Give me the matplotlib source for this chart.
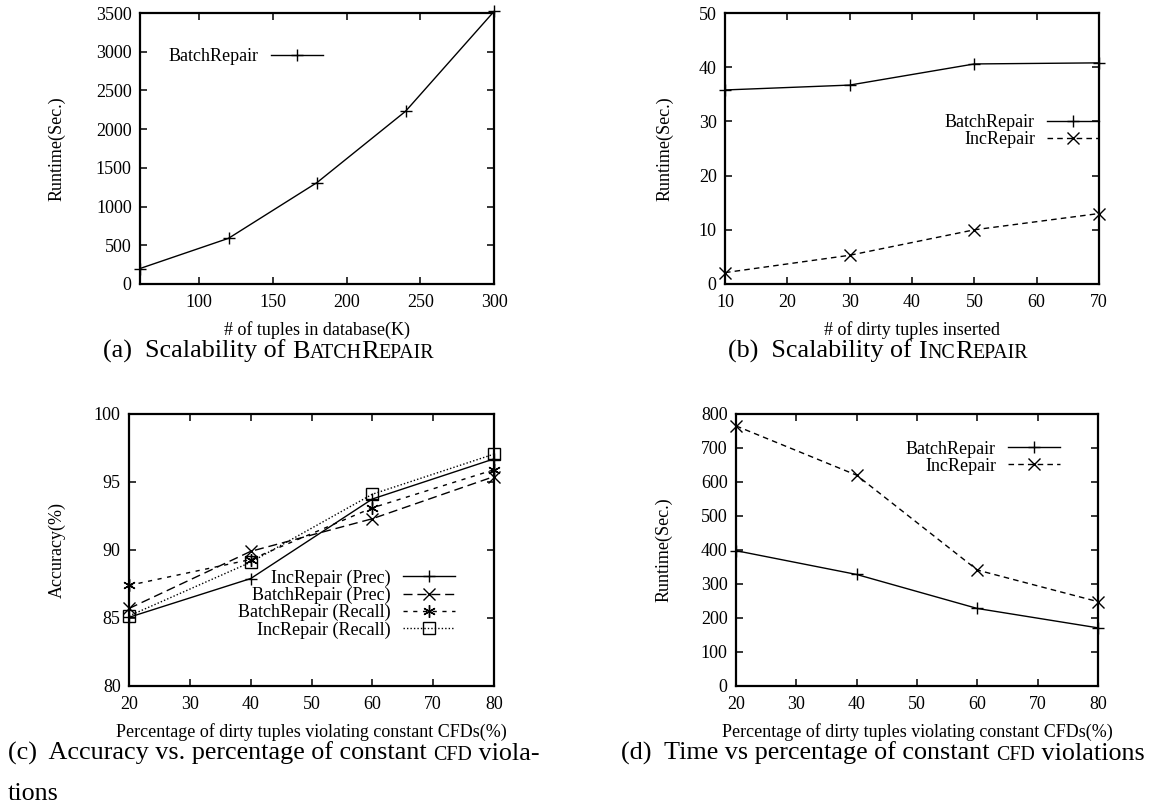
import matplotlib
matplotlib.use("Agg")
import matplotlib.pyplot as plt

plt.rcParams["font.family"] = ["Liberation Serif", "DejaVu Serif"]
plt.rcParams["font.size"] = 13

# (a) scalability of BatchRepair
tuples_k = [60, 120, 180, 240, 300]
batch_a = [200, 590, 1310, 2230, 3520]

# (b) scalability of IncRepair
dirty_inserted = [10, 30, 50, 70]
batch_b = [35.8, 36.7, 40.6, 40.8]
inc_b = [2.1, 5.3, 10.0, 13.0]

# (c) accuracy vs. percentage of constant CFD violations
pct = [20, 40, 60, 80]
inc_prec = [85.05, 87.9, 93.75, 96.7]
batch_prec = [85.7, 89.9, 92.3, 95.4]
batch_recall = [87.4, 89.3, 93.1, 95.9]
inc_recall = [85.15, 89.1, 94.1, 97.05]

# (d) time vs percentage of constant CFD violations
batch_d = [398, 328, 228, 171]
inc_d = [765, 620, 341, 248]

W, H = 1163, 807
fig = plt.figure(figsize=(W / 100, H / 100), dpi=100)
FS = 13


def add_axes(l, t, r, b):
    return fig.add_axes([l / W, 1 - b / H, (r - l) / W, (b - t) / H])


def style(ax, xlabel, ylabel, xl_y, yl_x):
    for s in ax.spines.values():
        s.set_linewidth(1.6)
    ax.tick_params(direction="in", top=True, right=True, length=5,
                   width=1.1, labelsize=FS, pad=6)
    ax.tick_params(axis="x", pad=7)
    ax.set_xlabel(xlabel, fontsize=FS, va="center")
    ax.set_ylabel(ylabel, fontsize=FS, va="center")
    ax.xaxis.set_label_coords(0.5, xl_y)
    ax.yaxis.set_label_coords(yl_x, 0.5)


def legend(ax, x, y):
    ax.legend(loc="center right", bbox_to_anchor=(x, y), frameon=False,
              markerfirst=False, borderpad=0, borderaxespad=0,
              handlelength=2.9, handletextpad=0.65, labelspacing=0.0,
              fontsize=FS)


kw = dict(color="black", lw=1, clip_on=False)

ax = add_axes(140, 13, 494, 284)
ax.plot(tuples_k, batch_a, marker="+", ms=9, mew=1, label="BatchRepair", **kw)
ax.set_xlim(60, 300)
ax.set_ylim(0, 3500)
ax.set_xticks([100, 150, 200, 250, 300])
ax.set_yticks(range(0, 3501, 500))
style(ax, "# of tuples in database(K)", "Runtime(Sec.)", -0.17, -0.234)
legend(ax, 0.517, 0.838)

ax = add_axes(725, 13, 1099, 284)
ax.plot(dirty_inserted, batch_b, marker="+", ms=9, mew=1, label="BatchRepair", **kw)
ax.plot(dirty_inserted, inc_b, marker="x", ms=8, mew=1, ls=(0, (4, 3)),
        label="IncRepair", **kw)
ax.set_xlim(10, 70)
ax.set_ylim(0, 50)
ax.set_xticks(range(10, 71, 10))
ax.set_yticks(range(0, 51, 10))
style(ax, "# of dirty tuples inserted", "Runtime(Sec.)", -0.17, -0.16)
legend(ax, 1.0, 0.565)

ax = add_axes(129, 414, 494, 686)
ax.plot(pct, inc_prec, marker="+", ms=9, mew=1, label="IncRepair (Prec)", **kw)
ax.plot(pct, batch_prec, marker="x", ms=8, mew=1, ls=(0, (6.5, 3.5)),
        label="BatchRepair (Prec)", **kw)
ax.plot(pct, batch_recall, marker=(6, 2, 0), ms=9, mew=1, ls=(0, (3, 4)),
        label="BatchRepair (Recall)", **kw)
ax.plot(pct, inc_recall, marker="s", ms=8, mew=1, mfc="none", ls=(0, (1, 1.5)),
        label="IncRepair (Recall)", **kw)
ax.set_xlim(20, 80)
ax.set_ylim(80, 100)
ax.set_xticks(range(20, 81, 10))
ax.set_yticks(range(80, 101, 5))
style(ax, "Percentage of dirty tuples violating constant CFDs(%)", "Accuracy(%)",
      -0.169, -0.197)
legend(ax, 0.893, 0.301)

ax = add_axes(736, 414, 1098, 686)
ax.plot(pct, batch_d, marker="+", ms=9, mew=1, label="BatchRepair", **kw)
ax.plot(pct, inc_d, marker="x", ms=8, mew=1, ls=(0, (4, 3)),
        label="IncRepair", **kw)
ax.set_xlim(20, 80)
ax.set_ylim(0, 800)
ax.set_xticks(range(20, 81, 10))
ax.set_yticks(range(0, 801, 100))
style(ax, "Percentage of dirty tuples violating constant CFDs(%)", "Runtime(Sec.)",
      -0.169, -0.199)
legend(ax, 0.895, 0.84)

# captions: small caps made of smaller capitals
BIG, SMALL = 18.8, 14.3
renderer = fig.canvas.get_renderer()


def advance(s, size):
    # width of s including trailing blanks, measured against a bar glyph
    t1 = fig.text(0, 0, s + "|", fontsize=size)
    t2 = fig.text(0, 0, "|", fontsize=size)
    w = t1.get_window_extent(renderer).width - t2.get_window_extent(renderer).width
    t1.remove()
    t2.remove()
    return w


def caption(x, y, parts):
    x = x / W
    for s, size in parts:
        fig.text(x, 1 - y / H, s, fontsize=size, va="baseline", ha="left")
        x += advance(s, size) / W


caption(103, 358, [("(a)  Scalability of ", BIG), ("B", BIG), ("ATCH", SMALL),
                   ("R", BIG), ("EPAIR", SMALL)])
caption(728, 358, [("(b)  Scalability of ", BIG), ("I", BIG), ("NC", SMALL),
                   ("R", BIG), ("EPAIR", SMALL)])
caption(8, 760, [("(c)  Accuracy vs. percentage of constant ", BIG),
                 ("CFD", SMALL), (" viola-", BIG)])
caption(8, 800, [("tions", BIG)])
caption(621, 760, [("(d)  Time vs percentage of constant ", BIG),
                   ("CFD", SMALL), (" violations", BIG)])

fig.savefig("out.png", dpi=100)
